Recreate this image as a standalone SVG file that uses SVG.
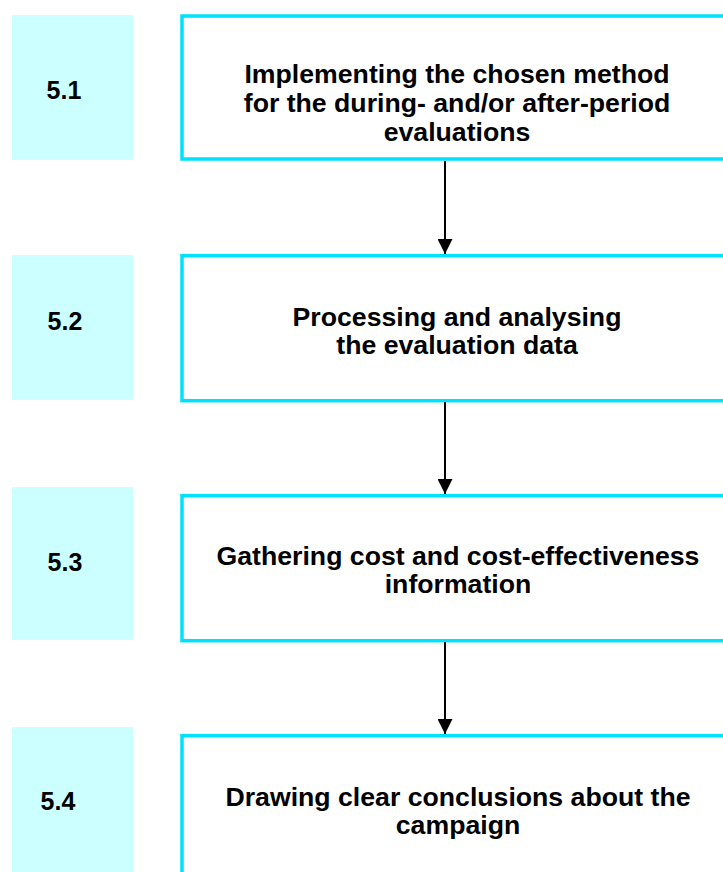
<svg xmlns="http://www.w3.org/2000/svg" width="723" height="872" viewBox="0 0 723 872">
<style>
.lab{fill:#ccffff;stroke:none}
.box{fill:#ffffff;stroke:#00e0ff;stroke-width:3.5}
.t{font-family:"Liberation Sans",Arial,sans-serif;font-weight:bold;font-size:26.67px;fill:#000;text-anchor:middle}
.n{font-family:"Liberation Sans",Arial,sans-serif;font-weight:bold;font-size:25px;fill:#000;text-anchor:middle}
.c{stroke:#000;stroke-width:2;fill:none}
</style>
<defs>
<marker id="ah" viewBox="0 0 16 15" refX="15" refY="7.5" markerWidth="16" markerHeight="15" markerUnits="userSpaceOnUse" orient="auto">
<path d="M0,0 L15,7.5 L0,15 Z" fill="#000"/>
</marker>
</defs>
<rect width="723" height="872" fill="#fff"/>
<g id="node-5-1">
<rect class="lab" x="12" y="15" width="121" height="145"/>
<text class="n" x="64" y="99">5.1</text>
<rect class="box" x="182" y="16" width="580" height="143"/>
<text class="t" x="457" y="83">Implementing the chosen method</text>
<text class="t" x="457" y="112">for the during- and/or after-period</text>
<text class="t" x="457" y="141">evaluations</text>
</g>
<g id="node-5-2">
<rect class="lab" x="12" y="255" width="121" height="145"/>
<text class="n" x="65" y="330">5.2</text>
<rect class="box" x="182" y="255.7" width="580" height="145"/>
<text class="t" x="457" y="326">Processing and analysing</text>
<text class="t" x="457" y="354">the evaluation data</text>
</g>
<g id="node-5-3">
<rect class="lab" x="12" y="487" width="121" height="153"/>
<text class="n" x="65" y="571">5.3</text>
<rect class="box" x="182" y="495.7" width="580" height="145"/>
<text class="t" x="458" y="565">Gathering cost and cost-effectiveness</text>
<text class="t" x="458" y="593">information</text>
</g>
<g id="node-5-4">
<rect class="lab" x="12" y="727" width="121" height="150"/>
<text class="n" x="58" y="810">5.4</text>
<rect class="box" x="182" y="735.7" width="580" height="160"/>
<text class="t" x="458" y="806">Drawing clear conclusions about the</text>
<text class="t" x="458" y="834">campaign</text>
</g>
<g id="connectors">
<line class="c" x1="445" y1="161" x2="445" y2="254" marker-end="url(#ah)"/>
<line class="c" x1="445" y1="402" x2="445" y2="494" marker-end="url(#ah)"/>
<line class="c" x1="445" y1="642" x2="445" y2="734" marker-end="url(#ah)"/>
</g>
</svg>
